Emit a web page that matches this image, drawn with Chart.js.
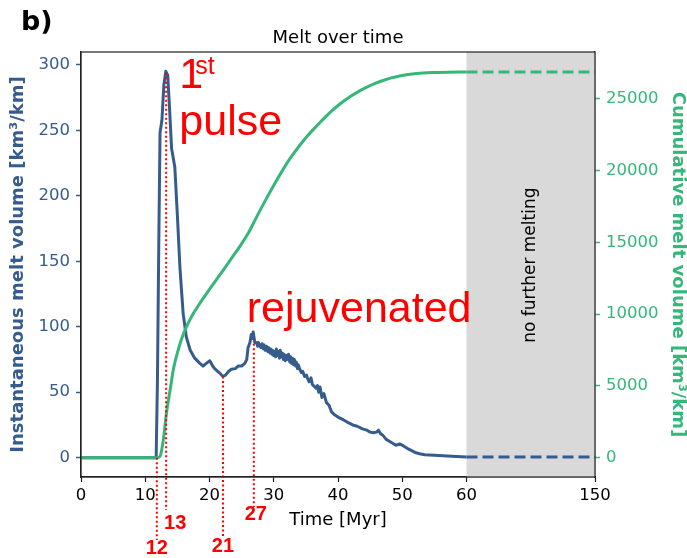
<!DOCTYPE html>
<html><head><meta charset="utf-8">
<script src="https://cdn.jsdelivr.net/npm/chart.js@4.4.0/dist/chart.umd.min.js"></script>
<style>html,body{margin:0;padding:0;background:#fff;}#wrap{width:687px;height:558px;}</style>
</head><body><div id="wrap"><canvas id="c" width="687" height="558"></canvas></div>
<script>
// ---- data ----
const timeInst = [0,11.7,11.9,12.1,12.3,12.6,12.9,13.2,13.5,13.8,14.1,14.6,15.0,15.4,15.9,16.4,17.0,17.7,18.5,19.0,19.5,20.05,20.5,20.8,21.5,22.1,22.5,23.0,23.4,24.0,24.5,25.0,25.5,25.8,26.0,26.3,26.5,26.7,26.8,27.05,27.3,27.5,27.6,27.8,28.0,28.2,28.4,28.5,28.7,28.9,29.1,29.2,29.4,29.5,29.7,29.8,30.0,30.1,30.3,30.4,30.6,30.7,30.9,31.0,31.2,31.3,31.5,31.6,31.8,32.0,32.2,32.3,32.5,32.6,32.8,32.9,33.1,33.2,33.4,33.5,33.7,33.8,34.1,34.3,34.5,34.8,35.1,35.3,35.5,35.8,36.0,36.2,36.6,36.8,37.0,37.2,37.5,37.8,38.2,38.6,39.0,39.4,40.0,40.8,41.5,42.3,43.0,43.8,44.5,45.0,45.5,46.0,46.3,46.6,47.0,47.5,48.0,48.5,49.0,49.6,50.2,51.0,52.0,52.7,53.5,55,57,60];
const meltInst = [0,0,60,160,248,258,285,295,292,265,236,222,185,145,110,92,82,76,72,70,72,74,70,68,65,62,63,66,67.5,68,70,70,72,75,84,88,94,91,96,88,88,85,88,86,84,87,83,86,82,85,81,84,80,83,79,82,78,81,77,83,78,81,76,82,77,80,75,79,74,78,75,79,73,77,72,76,71,75,70,73,68,71,67,65,66,62,63,60,58,61,56,55,53,55,50,54,46,49,42,40,35,33,31,29,27,25,24,22,21,19.5,19,19.5,21,18.5,17,14,12.5,11,9.5,10.5,9,6.5,4,3,2.3,1.8,1.2,0.5];
const timeCum = [0,11.8,12.3,12.8,13.3,13.9,14.4,15.0,15.6,16.4,17.3,18.5,19.8,21.0,22.2,23.5,24.7,26.0,27.3,28.6,29.9,31.2,32.6,34.0,35.3,36.6,37.9,39.2,40.5,41.8,43.1,44.4,45.7,47.0,48.3,49.6,50.9,52.2,54.7,57,60];
const meltCum = [0,0,90,1200,3100,4800,6200,7300,8200,9100,9900,10750,11600,12350,13100,13930,14700,15600,16730,17830,18880,19880,20870,21720,22430,23060,23660,24210,24690,25110,25470,25780,26040,26260,26440,26580,26680,26750,26815,26842,26850];
const endTime = 150;          // no further melting until the end
const xTickLabels = [0,10,20,30,40,50,60,150];
const yLeftTicks = [0,50,100,150,200,250,300];
const yRightTicks = [0,5000,10000,15000,20000,25000];
const markerTimes = [11.8,13.25,22.1,26.9];
const markerTops = [0,294,62,87];
const markerLabels = ['12','13','21','27'];

// ---- broken time axis: 0-60 linear, 60-150 compressed ----
const breakStart = 60, compressedWidth = 20;
function toAxis(t){ return t<=breakStart ? t : breakStart + (t-breakStart)*compressedWidth/(endTime-breakStart); }

const BLUE = '#365c8d', GREEN = '#35b779', RED = '#ff0000';
const lastT = timeInst[timeInst.length-1];
const instPts = timeInst.map((t,i)=>({x:toAxis(t),y:meltInst[i]}));
const cumPts = timeCum.map((t,i)=>({x:toAxis(t),y:meltCum[i]}));
const instDash = [{x:toAxis(lastT),y:meltInst[meltInst.length-1]},{x:toAxis(endTime),y:meltInst[meltInst.length-1]}];
const cumDash = [{x:toAxis(timeCum[timeCum.length-1]),y:meltCum[meltCum.length-1]},{x:toAxis(endTime),y:meltCum[meltCum.length-1]}];

const dejavu = '"DejaVu Sans", sans-serif';
const arial = '"Liberation Sans", Arial, sans-serif';

const deco = {
  id:'deco',
  beforeDatasetsDraw(chart){
    const {ctx, chartArea:a, scales:{x}} = chart;
    ctx.save();
    ctx.fillStyle = '#d9d9d9';
    const x0 = x.getPixelForValue(toAxis(lastT));
    ctx.fillRect(x0, a.top, a.right-x0, a.bottom-a.top);
    ctx.restore();
  },
  afterDatasetsDraw(chart){
    const {ctx, chartArea:a, scales:{x,y}} = chart;
    ctx.save();
    // red dotted markers
    ctx.strokeStyle = RED; ctx.lineWidth = 2; ctx.setLineDash([2,2.5]);
    const ext = [63,33,60,30];
    const lab = [[0,548],[9,523],[0,546],[2,514]];
    markerTimes.forEach((t,i)=>{
      const px = x.getPixelForValue(toAxis(t));
      ctx.beginPath(); ctx.moveTo(px, y.getPixelForValue(markerTops[i])); ctx.lineTo(px, a.bottom+ext[i]); ctx.stroke();
    });
    ctx.setLineDash([]);
    ctx.fillStyle = RED; ctx.font = 'bold 20px '+arial; ctx.textAlign='center'; ctx.textBaseline='middle';
    markerTimes.forEach((t,i)=>{
      const px = x.getPixelForValue(toAxis(t));
      ctx.fillText(markerLabels[i], px+lab[i][0], lab[i][1]);
    });
    // annotations
    ctx.textAlign='left'; ctx.textBaseline='alphabetic';
    ctx.font = '43px '+arial;
    ctx.fillText('1', x.getPixelForValue(15.3), y.getPixelForValue(282.5));
    ctx.fillText('pulse', x.getPixelForValue(15.3), y.getPixelForValue(246));
    ctx.fillText('rejuvenated', x.getPixelForValue(25.8), y.getPixelForValue(103.6));
    ctx.font = '25px '+arial;
    ctx.fillText('st', x.getPixelForValue(17.8), y.getPixelForValue(293));
    // gray region text
    ctx.fillStyle='#000'; ctx.font='17px '+dejavu; ctx.textAlign='center'; ctx.textBaseline='middle';
    ctx.translate(x.getPixelForValue(toAxis(105)), y.getPixelForValue(147));
    ctx.rotate(-Math.PI/2);
    ctx.fillText('no further melting',0,0);
    ctx.restore();
  },
  afterDraw(chart){
    const {ctx, chartArea:a} = chart;
    ctx.save();
    ctx.strokeStyle='#222'; ctx.lineWidth=1.2;
    ctx.strokeRect(a.left, a.top, a.right-a.left, a.bottom-a.top);
    ctx.fillStyle='#000'; ctx.textAlign='center'; ctx.textBaseline='alphabetic';
    ctx.font='18px '+dejavu;
    ctx.fillText('Melt over time',(a.left+a.right)/2,43);
    ctx.textAlign='left';
    ctx.font='bold 27px '+dejavu;
    ctx.fillText('b)',21,30);
    ctx.restore();
  }
};

new Chart(document.getElementById('c'), {
  type:'line',
  data:{datasets:[
    {data:cumPts, yAxisID:'y2', borderColor:GREEN, borderWidth:3, pointRadius:0, order:0, cubicInterpolationMode:'monotone'},
    {data:cumDash, yAxisID:'y2', borderColor:GREEN, borderWidth:3, pointRadius:0, borderDash:[11,5], order:0},
    {data:instPts, yAxisID:'y', borderColor:BLUE, borderWidth:3, pointRadius:0, order:1},
    {data:instDash, yAxisID:'y', borderColor:BLUE, borderWidth:3, pointRadius:0, borderDash:[11,5], order:1}
  ]},
  options:{
    responsive:false, animation:false, devicePixelRatio:1,
    layout:{padding:{top:52,left:0,right:0,bottom:0}},
    plugins:{legend:{display:false}, tooltip:{enabled:false}},
    elements:{line:{tension:0, borderJoinStyle:'round', borderCapStyle:'butt'}},
    scales:{
      x:{type:'linear', min:0, max:toAxis(endTime),
        afterBuildTicks(s){ s.ticks = xTickLabels.map(v=>({value:toAxis(v)})); },
        afterFit(s){ s.height = 81; },
        ticks:{color:'#000', font:{family:dejavu,size:16.5}, padding:4, maxRotation:0, autoSkip:false,
          callback:(v,i)=>String(xTickLabels[i])},
        grid:{drawOnChartArea:false, tickLength:5, tickColor:'#222', tickWidth:1.2},
        border:{display:true, color:'#222', width:1.2},
        title:{display:true, text:'Time [Myr]', color:'#000', font:{family:dejavu,size:18}, padding:{top:0,bottom:27}}
      },
      y:{type:'linear', position:'left', min:-14.75, max:309.75,
        afterBuildTicks(s){ s.ticks = yLeftTicks.map(v=>({value:v})); },
        afterFit(s){ s.width = 81; },
        ticks:{color:BLUE, font:{family:dejavu,size:16.5}, padding:6, callback:(v)=>String(v)},
        grid:{drawOnChartArea:false, tickLength:5, tickColor:BLUE, tickWidth:1.5},
        border:{display:true, color:'#222', width:1.2},
        title:{display:true, text:'Instantaneous melt volume [km³/km]', color:BLUE, font:{family:dejavu,size:18,weight:'bold',lineHeight:1}, padding:{top:9,bottom:0}}
      },
      y2:{type:'linear', position:'right', min:-1345, max:28245,
        afterBuildTicks(s){ s.ticks = yRightTicks.map(v=>({value:v})); },
        afterFit(s){ s.width = 92; },
        ticks:{color:GREEN, font:{family:dejavu,size:16.5}, padding:6, callback:(v)=>String(v)},
        grid:{drawOnChartArea:false, tickLength:5, tickColor:GREEN, tickWidth:1.5},
        border:{display:true, color:'#222', width:1.2},
        title:{display:true, text:'Cumulative melt volume [km³/km]', color:GREEN, font:{family:dejavu,size:18,weight:'bold',lineHeight:1}, padding:{top:0,bottom:0}}
      }
    }
  },
  plugins:[deco]
});
</script></body></html>
